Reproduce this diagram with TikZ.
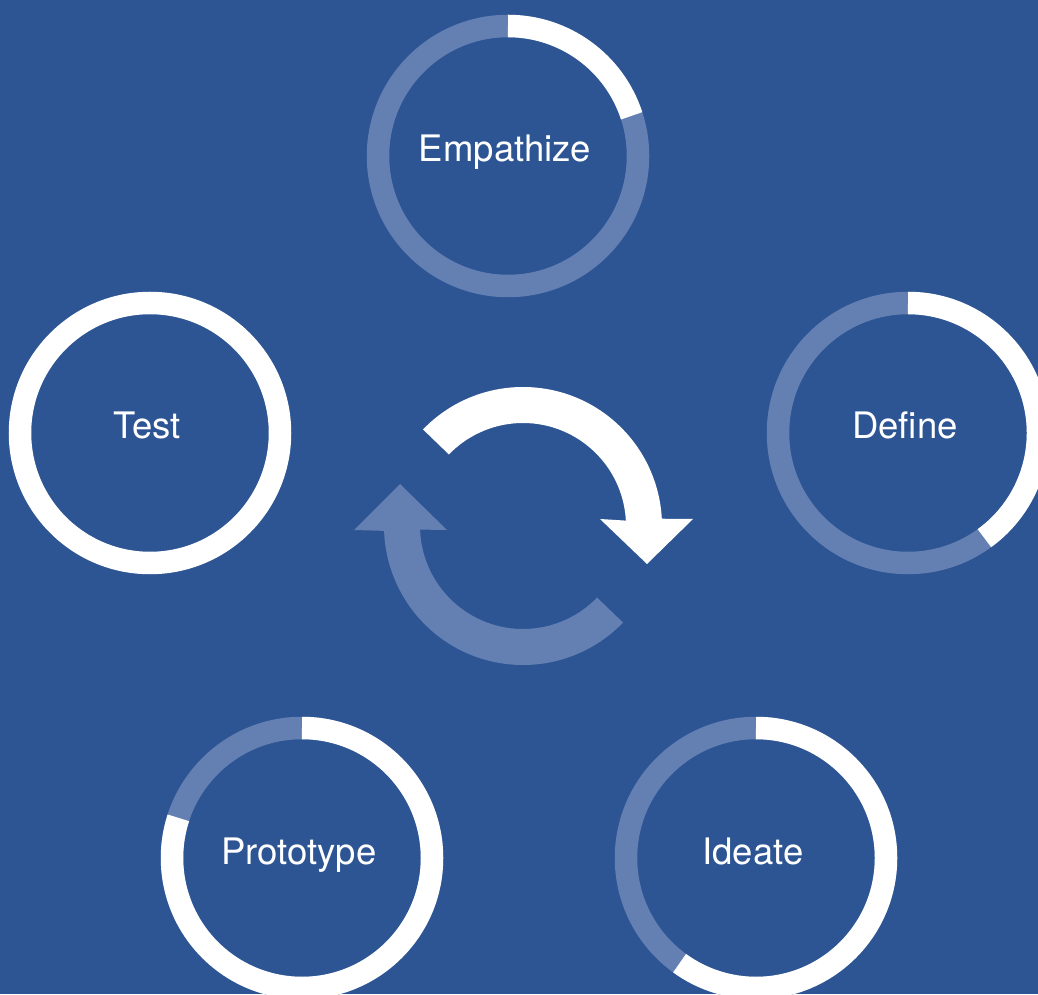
\documentclass[tikz,border=0pt]{standalone}
\usepackage{fontspec}
\setmainfont{TeX Gyre Heros}
\usepackage{tikz}
\usetikzlibrary{arrows.meta}
\usepackage{xcolor}
\definecolor{bgblue}{RGB}{45,85,148}
\definecolor{paleblue}{RGB}{100,128,179}

\begin{document}
\begin{tikzpicture}[x=1pt,y=1pt,line cap=butt,
  track/.style={paleblue,line width=22.5pt},
  done/.style={white,line width=22.5pt},
  stage/.style={white,anchor=base,inner sep=0pt,font=\fontsize{36.5}{44}\selectfont}]
\clip (0,0) rectangle (1038,994);
\fill[bgblue] (0,0) rectangle (1038,994);
\coordinate (emp) at (508,838);
\coordinate (def) at (908,561);
\coordinate (ide) at (756,136);
\coordinate (pro) at (302,136);
\coordinate (tst) at (150,561);
\coordinate (cyc) at (523,468);
\draw[track] (emp) circle (130);
\draw[done] (emp) ++(90:130) arc[start angle=90,end angle=18,radius=130];
\node[stage] (empathize) at ([xshift=-3pt,yshift=-6pt]emp) {Empathize};
\draw[track] (def) circle (130);
\draw[done] (def) ++(90:130) arc[start angle=90,end angle=-54,radius=130];
\node[stage] (define) at ([xshift=-3pt,yshift=-6pt]def) {Define};
\draw[track] (ide) circle (130);
\draw[done] (ide) ++(90:130) arc[start angle=90,end angle=-126,radius=130];
\node[stage] (ideate) at ([xshift=-3pt,yshift=-6pt]ide) {Ideate};
\draw[track] (pro) circle (130);
\draw[done] (pro) ++(90:130) arc[start angle=90,end angle=-198,radius=130];
\node[stage] (prototype) at ([xshift=-3pt,yshift=-6pt]pro) {Prototype};
\draw[done] (tst) circle (130);
\node[stage] (test) at ([xshift=-3pt,yshift=-6pt]tst) {Test};
\fill[white,shift={(cyc)}] (136:139) arc[start angle=136,end angle=3,radius=139]
  -- (170,7) -- (124,-38) -- (77,7) -- (3:103)
  arc[start angle=3,end angle=136,radius=103] -- cycle;
\fill[paleblue,shift={(cyc)}] (-44:139) arc[start angle=-44,end angle=-178,radius=139]
  -- (-169,-4) -- (-123,42) -- (-76,-4) -- (-178:103)
  arc[start angle=-178,end angle=-44,radius=103] -- cycle;
\end{tikzpicture}
\end{document}
